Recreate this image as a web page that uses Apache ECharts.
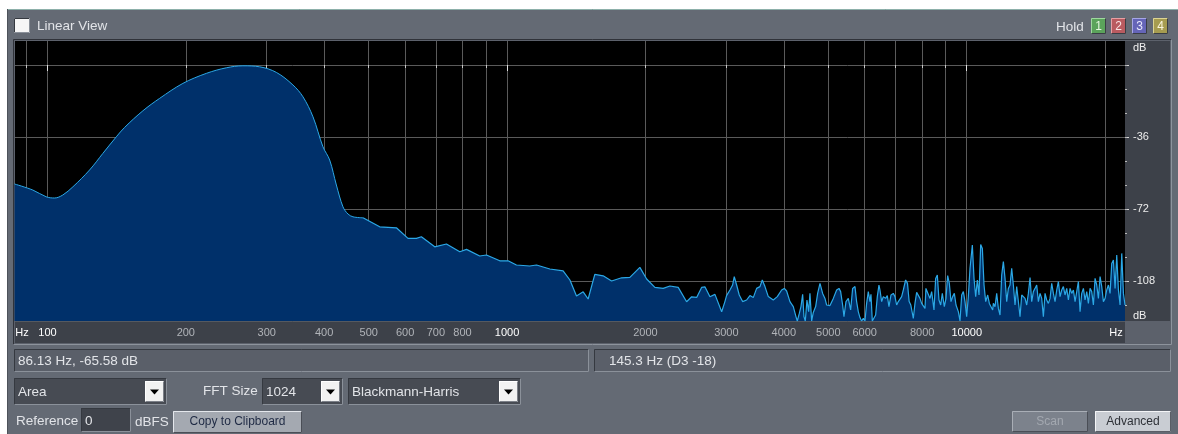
<!DOCTYPE html>
<html>
<head>
<meta charset="utf-8">
<script src="https://cdn.jsdelivr.net/npm/echarts@6/dist/echarts.min.js"></script>
<style>
  html, body { margin: 0; padding: 0; background: #ffffff; }
  #chart { width: 1178px; height: 434px; }
</style>
</head>
<body>
<div id="chart"></div>
<script>
// Spectrum: smooth low-frequency hump (Hz, dB)
const lowFreq = [84.8, 92.9, 99.4, 103.6, 108.0, 113.6, 123.5, 132.0, 141.2, 147.2, 161.3, 175.4, 197.1, 221.6, 245.0, 266.3, 289.5, 314.8, 342.1, 359.7, 378.2, 397.6, 411.2, 425.2, 439.5, 450.7, 462.1, 485.9];
const lowDb = [-59.5, -62.5, -65.9, -66.5, -65.0, -60.9, -52.5, -44.2, -35.9, -31.2, -22.9, -16.7, -9.2, -4.2, -1.4, -0.4, -0.9, -3.7, -10.0, -15.9, -25.9, -40.9, -47.5, -60.0, -70.9, -74.5, -75.9, -76.4];

// Spectrum: jagged mid/high-frequency part (Hz, dB)
const highFreq = [485.9, 528.3, 574.4, 608.7, 634.9, 650.9, 696.0, 738.0, 789.1, 816.1, 872.0, 901.9, 964.1, 1005, 1048, 1120, 1159, 1239, 1324, 1370, 1416, 1464, 1501, 1552, 1618, 1688, 1775, 1850, 1945, 2012, 2097, 2186, 2261, 2357, 2458, 2521, 2585, 2650, 2694, 2763, 2833, 2930,
  2978, 3003, 3054, 3095, 3121, 3158, 3200, 3254, 3320, 3376, 3433, 3491, 3550, 3591, 3640, 3701, 3795, 3872, 3957, 4010, 4057, 4125, 4195, 4251, 4280, 4323, 4359, 4396, 4425, 4455, 4492, 4530, 4560, 4599, 4637, 4692, 4739, 4795, 4859, 4916, 4957, 5041, 5126, 5212, 5274, 5318, 5371, 5407, 5462, 5526, 5591, 5647, 5714,
  5761, 5809, 5858, 5907, 5957, 6007, 6057, 6108, 6159, 6190, 6232, 6273, 6337, 6390, 6443, 6476, 6530, 6585, 6662, 6718, 6774, 6843, 6923, 6981, 7040, 7099, 7158, 7218, 7279, 7364, 7433, 7495, 7558, 7653, 7717, 7782, 7847, 7913, 7979, 8046, 8114, 8152, 8221, 8320, 8390, 8488, 8560, 8631, 8703, 8777, 8850, 8939, 9015, 9090, 9166, 9243, 9321, 9399, 9478, 9589, 9670, 9751, 9833, 9915, 9998, 10082, 10167, 10286, 10373, 10460, 10547, 10636, 10725, 10815, 10906, 10997, 11108, 11201, 11295, 11390,
  11428, 11524, 11621, 11718, 11817, 11916, 12016, 12116, 12218, 12321, 12424, 12528, 12633, 12739, 12846, 12954, 13062, 13172, 13283, 13394, 13506, 13619, 13734, 13849, 13965, 14082, 14200, 14320, 14440, 14561, 14683, 14806, 14930, 15055, 15182, 15309, 15438, 15567, 15698, 15829, 15962, 16096, 16231, 16367, 16505, 16643, 16783, 16923, 17065, 17209, 17353, 17498, 17645, 17793, 17943, 18093, 18245, 18398, 18552, 18708, 18865, 19023, 19183, 19344, 19506, 19669, 19834, 20001, 20169, 20338, 20508, 20680, 20854, 21029, 21205, 21383, 21562, 21743, 21926, 22100];
const highDb = [-76.4, -80.9, -81.4, -86.7, -86.7, -85.9, -90.9, -89.5, -93.4, -92.2, -95.5, -95.0, -97.9, -97.9, -100.0, -100.5, -100.0, -102.0, -102.9, -107.5, -115.5, -113.4, -117.0, -104.7, -105.4, -108.0, -106.4, -106.2, -101.2, -107.0, -111.2, -111.7, -110.5, -111.2, -118.4, -115.9, -116.2, -111.2, -110.9, -115.9, -114.7, -123.4,
  -118.3, -115.3, -112.5, -110.0, -105.8, -110.0, -115.0, -118.3, -117.5, -115.3, -116.3, -111.7, -110.8, -107.5, -110.8, -115.8, -117.5, -115.8, -112.5, -111.7, -113.0, -118.3, -120.8, -125.8, -128.0, -124.2, -120.8, -114.7, -125.8, -128.0, -117.5, -123.3, -114.2, -128.0, -123.7, -120.8, -114.2, -109.2, -114.2, -116.7, -120.0, -120.3, -116.7, -112.5, -111.7, -113.3, -120.0, -125.8, -118.3, -116.7, -122.5, -111.7, -110.8,
  -118.3, -123.3, -126.3, -128.0, -126.7, -128.0, -119.2, -113.3, -118.3, -114.7, -128.0, -128.0, -125.0, -115.8, -110.0, -112.5, -118.3, -115.8, -116.7, -115.3, -120.8, -115.0, -114.2, -115.8, -120.0, -118.3, -119.2, -115.8, -112.5, -107.5, -109.2, -118.3, -120.0, -126.7, -119.2, -113.7, -114.2, -116.7, -119.2, -118.3, -121.7, -111.7, -110.8, -116.7, -113.3, -122.5, -106.7, -105.0, -117.5, -120.0, -114.2, -120.8, -116.7, -105.3, -109.2, -118.3, -115.8, -114.2, -120.0, -123.3, -128.0, -115.0, -113.3, -118.3, -125.8, -115.8, -101.7, -90.0, -106.7, -115.8, -107.5, -115.0, -89.7, -91.7, -110.0, -118.3, -115.0, -119.2, -120.0, -122.5,
  -119.2, -120.8, -114.2, -121.7, -125.0, -105.0, -98.3, -106.7, -118.3, -111.7, -110.0, -101.7, -110.0, -120.0, -110.8, -118.3, -125.8, -115.0, -114.2, -116.7, -120.0, -114.2, -106.3, -118.3, -113.3, -111.7, -110.0, -118.3, -114.2, -116.7, -125.8, -114.2, -117.5, -119.2, -116.7, -109.2, -114.2, -118.3, -112.5, -108.3, -115.8, -112.5, -110.8, -115.0, -111.7, -117.5, -111.7, -114.2, -112.5, -118.3, -113.3, -108.3, -123.3, -114.2, -111.7, -117.5, -113.3, -119.2, -111.7, -113.3, -120.0, -106.7, -110.0, -116.7, -105.8, -110.8, -118.3, -116.7, -112.5, -110.0, -114.2, -99.2, -97.5, -111.7, -95.0, -112.5, -120.0, -94.2, -114.2, -120.0];

// Axis ticks and labels
const freqGridTicks = [90, 100, 200, 300, 400, 500, 600, 700, 800, 900, 1000, 2000, 3000, 4000, 5000, 6000, 7000, 8000, 9000, 10000, 20000];
const freqDecadeTicks = [100, 1000, 10000];
const freqLabels = [90, 100, 200, 300, 400, 500, 600, 700, 800, 1000, 2000, 3000, 4000, 5000, 6000, 8000, 10000, 20000];
const dbGridTicks = [0, -36, -72, -108];
const dbMinorTicks = [0, -12, -24, -36, -48, -60, -72, -84, -96, -108, -120];
const dbLabels = [-36, -72, -108];

// Panel texts
const readout = '86.13 Hz, -65.58 dB';
const pitchReadout = '145.3 Hz (D3 -18)';
const holdSlots = ['1', '2', '3', '4'];

const FONT = '"Liberation Sans", Arial, sans-serif';
const UI_FONT = '13.5px ' + FONT;
const PANEL = '#646a74';
const STRIP = '#3d4149';

function rect(x, y, w, h, fill, z) {
  return { type: 'rect', z: z === undefined ? -5 : z, silent: true, shape: { x, y, width: w, height: h }, style: { fill } };
}
function seg(x1, y1, x2, y2, stroke, z) {
  return { type: 'line', z: z === undefined ? -4 : z, silent: true, shape: { x1, y1, x2, y2 }, style: { stroke, lineWidth: 1 } };
}
function label(str, x, y, opt) {
  const style = Object.assign({
    text: str, x, y, fill: '#e2e4e8', font: UI_FONT,
    align: 'left', verticalAlign: 'middle', textAlign: 'left', textVerticalAlign: 'middle'
  }, opt || {});
  if (style.align) style.textAlign = style.align;
  return { type: 'text', z: 10, silent: true, style };
}
function sunken(x, y, w, h, fill) {
  return [
    rect(x, y, w, h, fill),
    seg(x + 0.5, y + 0.5, x + w - 0.5, y + 0.5, '#353940'),
    seg(x + 0.5, y + 0.5, x + 0.5, y + h - 0.5, '#353940'),
    seg(x + 0.5, y + h - 0.5, x + w - 0.5, y + h - 0.5, '#8b919a'),
    seg(x + w - 0.5, y + 0.5, x + w - 0.5, y + h - 0.5, '#8b919a')
  ];
}
function raised(x, y, w, h, fill, hi, lo) {
  return [
    rect(x, y, w, h, fill),
    seg(x + 0.5, y + 0.5, x + w - 0.5, y + 0.5, hi),
    seg(x + 0.5, y + 0.5, x + 0.5, y + h - 0.5, hi),
    seg(x + 0.5, y + h - 0.5, x + w - 0.5, y + h - 0.5, lo),
    seg(x + w - 0.5, y + 0.5, x + w - 0.5, y + h - 0.5, lo)
  ];
}
function combo(x, y, w, h, text) {
  const bx = x + w - 22, cy = y + h / 2;
  return [
    ...sunken(x, y, w, h, '#474b53'),
    ...raised(bx, y + 3, 19, h - 6, '#f2f2f2', '#ffffff', '#7c8088'),
    { type: 'polygon', z: -3, silent: true, shape: { points: [[bx + 5, cy - 2], [bx + 14, cy - 2], [bx + 9.5, cy + 3]] }, style: { fill: '#000000' } },
    label(text, x + 4, cy + 0.5)
  ];
}

const holdColors = [
  { fill: '#5ba35b', hi: '#9fd89f', text: '#e6f6e0' },
  { fill: '#b95b60', hi: '#e6a0a4', text: '#fbe4e4' },
  { fill: '#6565b8', hi: '#a6a6e6', text: '#e8e8fb' },
  { fill: '#a69c50', hi: '#dcd494', text: '#fbf6dc' }
];
const holdX = [1091, 1111, 1132, 1153];

const graphics = [
  rect(7, 9, 1171, 425, PANEL, -100),
  seg(7, 9.5, 1178, 9.5, '#8db0aa', -99),
  seg(7.5, 9, 7.5, 434, '#4d525a', -99),
  // checkbox + caption
  ...sunken(14, 18, 16, 15, '#f6f6f6'),
  label('Linear View', 37, 26),
  label('Hold', 1056, 27),
  // frame around the plot and axis strips
  rect(13, 39, 1159, 306, '#5c616b', -20),
  seg(13.5, 39.5, 1171.5, 39.5, '#30333a', -19),
  seg(13.5, 39.5, 13.5, 344.5, '#30333a', -19),
  seg(13.5, 344.5, 1171.5, 344.5, '#8d939c', -19),
  seg(1171.5, 39.5, 1171.5, 344.5, '#8d939c', -19),
  rect(15, 321, 1110, 22, STRIP, -15),
  rect(1125, 41, 45, 280, STRIP, -15),
  seg(15, 321.5, 1125, 321.5, '#555960', -14),
  label('dB', 1133, 48, { font: '11px ' + FONT, fill: '#eeeeee', textShadowColor: '#6e4a1e', textShadowOffsetX: 1, textShadowOffsetY: 1 }),
  label('dB', 1133, 316, { font: '11px ' + FONT, fill: '#eeeeee', textShadowColor: '#6e4a1e', textShadowOffsetX: 1, textShadowOffsetY: 1 }),
  // readout bar
  ...sunken(14, 349, 575, 23, '#5a5f69'),
  ...sunken(594, 349, 577, 23, '#5a5f69'),
  label(readout, 18, 361),
  label(pitchReadout, 609, 361),
  // display / FFT controls
  ...combo(14, 378, 153, 27, 'Area'),
  label('FFT Size', 203, 391.5),
  ...combo(262, 378, 81, 27, '1024'),
  ...combo(348, 378, 173, 27, 'Blackmann-Harris'),
  // reference row
  label('Reference', 16, 421),
  ...sunken(81, 408, 50, 24, '#3f434b'),
  label('0', 85, 421),
  label('dBFS', 135, 422),
  ...raised(173, 411, 129, 22, '#a4a9b1', '#e4e7ec', '#4a4e56'),
  label('Copy to Clipboard', 237.5, 422, { align: 'center', font: '12px ' + FONT, fill: '#1f2a44', textShadowColor: '#e6eaf0', textShadowOffsetX: 1, textShadowOffsetY: 1 }),
  ...raised(1012, 411, 76, 21, '#7c828c', '#a9aeb6', '#4a4e56'),
  label('Scan', 1050, 422, { align: 'center', font: '12px ' + FONT, fill: '#a3a8b0', textShadowColor: '#c4c8ce', textShadowOffsetX: 1, textShadowOffsetY: 1 }),
  ...raised(1095, 411, 76, 21, '#c9cdd3', '#f4f5f7', '#5a5e66'),
  label('Advanced', 1133, 422, { align: 'center', font: '12px ' + FONT, fill: '#2e3137', textShadowColor: '#ffffff', textShadowOffsetX: 1, textShadowOffsetY: 1 })
];
holdSlots.forEach((s, i) => {
  const c = holdColors[i];
  graphics.push(...raised(holdX[i], 18, 15, 16, c.fill, c.hi, '#3a3e45'));
  graphics.push(label(s, holdX[i] + 7.5, 26.5, { align: 'center', font: '12px ' + FONT, fill: c.text, textShadowColor: '#2a2a2a', textShadowOffsetX: 1, textShadowOffsetY: 1 }));
});

const dimLabel = { color: '#b1b4b9', textShadowColor: '#000000', textShadowOffsetX: 1, textShadowOffsetY: 1, fontSize: 11, fontFamily: FONT };
const brightLabel = { color: '#ffffff', textShadowColor: '#704c1c', textShadowOffsetX: 1, textShadowOffsetY: 1, fontSize: 11, fontFamily: FONT };

const chart = echarts.init(document.getElementById('chart'), null, { renderer: 'canvas' });
chart.setOption({
  animation: false,
  backgroundColor: '#ffffff',
  graphic: graphics,
  grid: {
    left: 15, top: 41, width: 1110, height: 280,
    show: true, backgroundColor: '#000000', borderWidth: 0,
    containLabel: false, outerBoundsMode: 'none'
  },
  xAxis: [{
    type: 'log', logBase: 10, min: 85, max: 22100, gridIndex: 0, position: 'bottom',
    axisLine: { show: false },
    axisTick: { show: true, customValues: freqGridTicks, length: 3, lineStyle: { color: '#c9c9c9', width: 1 } },
    splitLine: { show: true, lineStyle: { color: '#5a5a5a', width: 1 } },
    axisLabel: {
      show: true, customValues: freqLabels, margin: 6.5, fontSize: 11, fontFamily: FONT,
      formatter: function (v) {
        if (v === 90) return '{l|Hz}';
        if (v === 20000) return '{r|Hz}';
        if (v === 100 || v === 1000 || v === 10000) return '{b|' + v + '}';
        return '{n|' + v + '}';
      },
      rich: {
        n: dimLabel,
        b: brightLabel,
        l: Object.assign({ padding: [0, 9, 0, 0] }, brightLabel),
        r: Object.assign({ padding: [0, 0, 0, 22] }, brightLabel)
      }
    }
  }, {
    type: 'log', logBase: 10, min: 85, max: 22100, gridIndex: 0, position: 'bottom',
    axisLine: { show: false },
    axisTick: { show: true, customValues: freqDecadeTicks, length: 6, lineStyle: { color: '#e0e0e0', width: 1 } },
    splitLine: { show: false },
    axisLabel: { show: false }
  }],
  yAxis: [{
    type: 'value', min: -128, max: 12, position: 'right', gridIndex: 0,
    axisLine: { show: false },
    axisTick: { show: true, customValues: dbGridTicks, length: 4, lineStyle: { color: '#d6d6d6', width: 1 } },
    splitLine: { show: true, lineStyle: { color: '#5a5a5a', width: 1 } },
    axisLabel: {
      show: true, customValues: dbLabels, margin: 8, align: 'left',
      color: '#ececec', fontSize: 11, fontFamily: FONT,
      textShadowColor: '#6e4a1e', textShadowOffsetX: 1, textShadowOffsetY: 1
    }
  }, {
    type: 'value', min: -128, max: 12, position: 'right', gridIndex: 0,
    axisLine: { show: false },
    axisTick: { show: true, customValues: dbMinorTicks, length: 2, lineStyle: { color: '#b8b8b8', width: 1 } },
    splitLine: { show: false },
    axisLabel: { show: false }
  }],
  series: [{
    type: 'line', name: 'low', xAxisIndex: 0, yAxisIndex: 0, z: 3,
    data: lowFreq.map((f, i) => [f, lowDb[i]]),
    smooth: 0.35, symbol: 'none',
    lineStyle: { color: '#2ba8e6', width: 1 },
    areaStyle: { color: '#00306a', opacity: 1, origin: 'start' }
  }, {
    type: 'line', name: 'high', xAxisIndex: 0, yAxisIndex: 0, z: 3,
    data: highFreq.map((f, i) => [f, highDb[i]]),
    smooth: false, symbol: 'none',
    lineStyle: { color: '#2ba8e6', width: 1.2 },
    areaStyle: { color: '#00306a', opacity: 1, origin: 'start' }
  }]
});
</script>
</body>
</html>
